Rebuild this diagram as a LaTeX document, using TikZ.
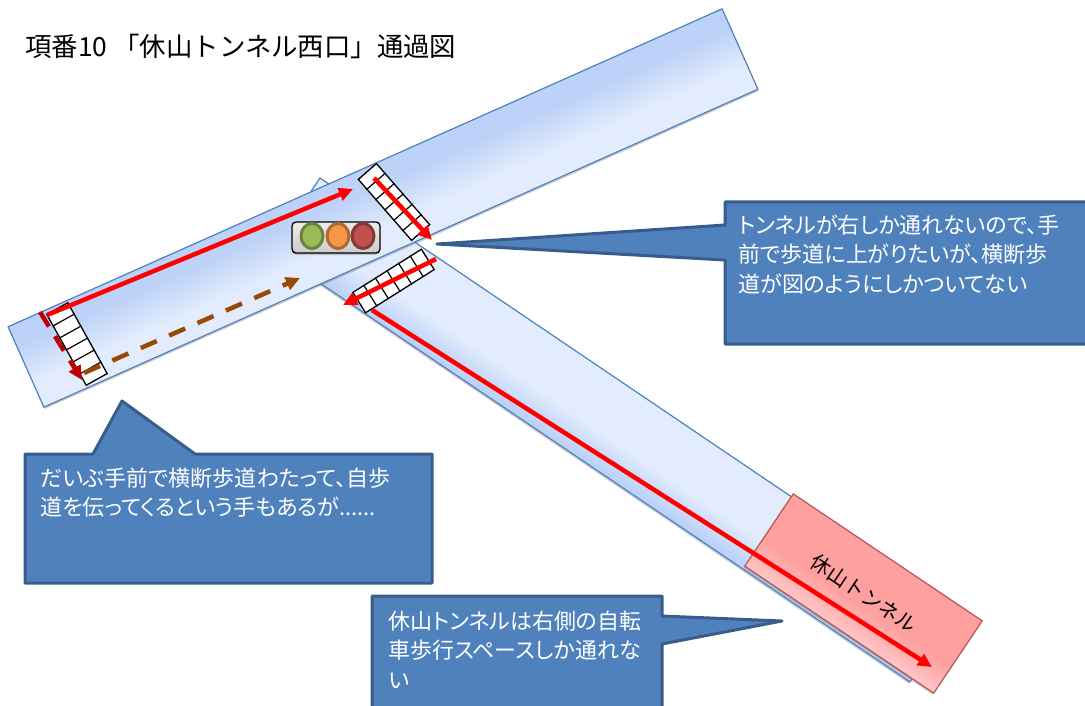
\documentclass[tikz,border=0pt]{standalone}
\usepackage{fontspec}
\setmainfont[RawFeature=+palt]{Noto Sans CJK JP}
\newfontfamily\widefont{Noto Sans CJK JP}
\usetikzlibrary{arrows.meta, calc, shadows, shapes.geometric}
\definecolor{roadedge}{HTML}{4F81BD}
\definecolor{roaddark}{HTML}{BDD2F8}
\definecolor{roadlight}{HTML}{E2ECFC}
\definecolor{tunneledge}{HTML}{B85450}
\definecolor{tunnelfill}{HTML}{FFA0A0}
\definecolor{tunnellight}{HTML}{FFC6C6}
\definecolor{bubblefill}{HTML}{4F81BD}
\definecolor{bubbleedge}{HTML}{385D8A}
\definecolor{lampgreen}{HTML}{9BBB59}
\definecolor{lamporange}{HTML}{F79646}
\definecolor{lampred}{HTML}{C0504D}
\definecolor{routebrown}{HTML}{984807}
\pgfdeclareverticalshading{roadupper}{100bp}{color(0bp)=(roadlight); color(40bp)=(roadlight); color(63bp)=(roaddark); color(100bp)=(roaddark)}
\pgfdeclareverticalshading{roadlower}{100bp}{color(0bp)=(roaddark); color(27bp)=(roaddark); color(45bp)=(roadlight); color(100bp)=(roadlight)}
\pgfdeclareverticalshading{tunnelband}{100bp}{color(0bp)=(tunnellight); color(25bp)=(tunnellight); color(43bp)=(tunnelfill); color(100bp)=(tunnelfill)}

\begin{document}
\begin{tikzpicture}[x=1pt, y=-1pt, line width=1pt, >={Triangle[length=14pt,width=13pt]},
	softshadow/.style={drop shadow={shadow xshift=0pt,shadow yshift=-2pt,opacity=.4}},
	roadbar/.style={draw=roadedge, line width=1.2pt, inner sep=0pt, softshadow},
	walkbox/.style={draw=black, fill=white, line width=1.3pt, minimum width=81pt, minimum height=24pt, inner sep=0pt},
	lamp/.style={ellipse, draw=#1!70!black, fill=#1, line width=3pt, minimum width=22pt, minimum height=25pt, inner sep=0pt},
	redline/.style={red, line width=4.5pt, ->},
	bubble/.style={draw=bubbleedge, fill=bubblefill, line width=3pt, line join=round},
	bubbletext/.style={white, align=left, anchor=north west, inner sep=0pt, font=\fontsize{22}{29.8}\selectfont}]
	\useasboundingbox (0,0) rectangle (1085,706);
	\clip (0,0) rectangle (1085,706);

	\node[anchor=west, inner sep=0pt, font=\widefont\fontsize{26.4}{30}\selectfont] (title) at (25,46) {項番10 「休山トンネル西口」通過図};

	% roads
	\begin{scope}[transform canvas={shift={(615,430)}, rotate=-34.06}]
		\node[roadbar, minimum width=771pt, minimum height=87pt, shade, shading=roadlower] (road2) at (0,0) {};
	\end{scope}
	\begin{scope}[transform canvas={shift={(383,208)}, rotate=24}]
		\node[roadbar, minimum width=781.6pt, minimum height=88pt, shade, shading=roadupper] (road1) at (0,0) {};
	\end{scope}
	\begin{scope}[transform canvas={shift={(863.5,593.5)}, rotate=-33.9}]
		\node[draw=tunneledge, line width=1.2pt, minimum width=227.7pt, minimum height=87pt, softshadow,
			shade, shading=tunnelband, font=\widefont\fontsize{20.5}{24}\selectfont] (tunnel) at (0,0) {休山トンネル};
	\end{scope}

	% crosswalks
	\foreach \wname/\wx/\wy/\wrot in {walk1/77/344/-60.9, walk2/394/202/-48.9, walk3/393.5/281/32.2} {
		\node[walkbox, rotate=\wrot] (\wname) at (\wx,\wy) {};
		\foreach \t in {1,...,5}
			\draw[line width=1.2pt] ($(\wname.north west)!\t/6!(\wname.north east)$) -- ($(\wname.south west)!\t/6!(\wname.south east)$);
	}

	% signal
	\node[draw=black, line width=1.3pt, rounded corners=4pt, minimum width=88pt, minimum height=31pt, softshadow,
		top color=gray!15, bottom color=gray!40] (signal) at (336,237.5) {};
	\node[lamp=lampgreen]  (lamp1) at (312,236) {};
	\node[lamp=lamporange] (lamp2) at (338,236) {};
	\node[lamp=lampred]    (lamp3) at (363,236) {};

	% routes
	\coordinate (a1) at (47,315);
	\coordinate (a2) at (353,189);
	\coordinate (b1) at (374,178);
	\coordinate (b2) at (432,240);
	\coordinate (c1) at (436,259);
	\coordinate (c2) at (343,305);
	\coordinate (d1) at (372,310);
	\coordinate (d2) at (932,667);
	\coordinate (e1) at (40,312);
	\coordinate (e2) at (82,380);
	\coordinate (f1) at (84,373);
	\coordinate (f2) at (300,278);
	\draw[redline] (a1) -- (a2);
	\draw[redline] (b1) -- (b2);
	\draw[redline] (c1) -- (c2);
	\draw[redline] (d1) -- (d2);
	\draw[->, draw=red!75!black, line width=4.5pt, dash pattern=on 17pt off 11.5pt] (e1) -- (e2);
	\draw[->, draw=routebrown, line width=4.5pt, dash pattern=on 17.5pt off 13.5pt] (f1) -- (f2);

	% callouts
	\draw[bubble] (725,202) -- (1095,202) -- (1095,344) -- (725,344) -- (725,260) -- (437,244) -- (725,225) -- cycle;
	\node[bubbletext] (note1) at (738,214) {トンネルが右しか通れないので、手\\前で歩道に上がりたいが、横断歩\\道が図のようにしかついてない};

	\draw[bubble] (25,454) -- (93,454) -- (122,401) -- (195,454) -- (432,454) -- (432,583) -- (25,583) -- cycle;
	\node[bubbletext] (note2) at (40,467) {だいぶ手前で横断歩道わたって、自歩\\道を伝ってくるという手もあるが......};

	\draw[bubble] (372,596) -- (662,596) -- (662,616) -- (782,621) -- (662,644) -- (662,715) -- (372,715) -- cycle;
	\node[bubbletext] (note3) at (388,610) {休山トンネルは右側の自転\\車歩行スペースしか通れな\\い};
\end{tikzpicture}
\end{document}
